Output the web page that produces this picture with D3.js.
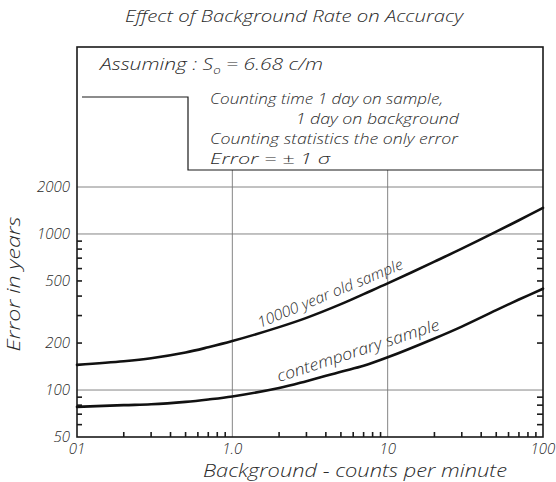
<!DOCTYPE html>
<html>
<head>
<meta charset="utf-8">
<script src="https://cdn.jsdelivr.net/npm/d3@7"></script>
<style>
  html, body { margin: 0; padding: 0; background: #fff; }
  svg { display: block; }
  text { font-family: "Open Sans", "DejaVu Sans", sans-serif; font-weight: 300; font-style: italic; fill: #2a2a2a; }
</style>
</head>
<body>
<svg id="chart" width="556" height="482"></svg>
<script>
// Background counting rate (counts per minute)
const background = [0.1, 0.2, 0.3, 0.5, 0.7, 1, 2, 3, 5, 7, 10, 20, 30, 50, 70, 100];
// Dating error (years) for a 10000-year-old sample
const oldSample = [145, 153, 160, 174, 188, 206, 253, 290, 355, 412, 482, 665, 805, 1035, 1225, 1470];
// Dating error (years) for a contemporary sample
const contemporary = [78, 80, 81, 84, 87, 91, 103, 114, 131, 143, 162, 214, 255, 325, 380, 446];

const xTickValues = [0.1, 1, 10, 100];
const xTickLabels = ["01", "1.0", "10", "100"];
const yTickValues = [50, 100, 200, 500, 1000, 2000];
const yTickLabels = ["50", "100", "200", "500", "1000", "2000"];
const yMinorTicks = [60, 70, 80, 90, 200, 300, 400, 500, 600, 700, 800, 900];
const xMinorTicks = [0.2, 0.3, 0.4, 0.5, 0.6, 0.7, 0.8, 0.9,
                     2, 3, 4, 5, 6, 7, 8, 9,
                     20, 30, 40, 50, 60, 70, 80, 90];
const gridY = [100, 1000, 2000];
const gridX = [1, 10];

const notes = [
  "Counting time 1 day on sample,",
  "1 day on background",
  "Counting statistics the only error",
  "Error = \u00b1 1 \u03c3"
];

const svg = d3.select("#chart");
const L = 77, R = 543, B = 437, T = 47;

const x = d3.scaleLog().domain([0.1, 100]).range([L, R]);
const y = d3.scaleLog().domain([50, 2000]).range([B, 187]);
const plotTop = 170;   // top edge of the graph under the notes panel
const stepX = 188, stepY = 97;

const ink = "#1a1a1a";

// gridlines
const grid = svg.append("g").attr("stroke", "#777").attr("stroke-width", 0.9);
grid.selectAll("line.gy").data(gridY).join("line")
  .attr("x1", L).attr("x2", R).attr("y1", d => y(d)).attr("y2", d => y(d));
grid.selectAll("line.gx").data(gridX).join("line")
  .attr("x1", d => x(d)).attr("x2", d => x(d)).attr("y1", B).attr("y2", plotTop);

// minor ticks, left and right
const ticks = svg.append("g").attr("stroke", ink).attr("stroke-width", 1.6);
ticks.selectAll("line.tl").data(yMinorTicks).join("line")
  .attr("x1", L).attr("x2", L + 5).attr("y1", d => y(d)).attr("y2", d => y(d));
ticks.selectAll("line.tr").data(yMinorTicks).join("line")
  .attr("x1", R).attr("x2", R - 6).attr("y1", d => y(d)).attr("y2", d => y(d));
ticks.selectAll("line.tb").data(xMinorTicks).join("line")
  .attr("x1", d => x(d)).attr("x2", d => x(d)).attr("y1", B).attr("y2", B - 5);

// frame and notes panel
const frame = svg.append("g").attr("fill", "none").attr("stroke", ink);
frame.append("rect").attr("x", L).attr("y", T).attr("width", R - L).attr("height", B - T)
  .attr("stroke-width", 1.6);
frame.append("path")
  .attr("d", `M${L + 5},${stepY}H${stepX}V${plotTop}H${R}`)
  .attr("stroke-width", 1.2);

// curves
const line = d3.line().curve(d3.curveCatmullRom.alpha(0.5));
const curves = svg.append("g").attr("fill", "none").attr("stroke", "#111")
  .attr("stroke-width", 2.6).attr("stroke-linecap", "round");
[oldSample, contemporary].forEach(series => {
  curves.append("path").attr("d", line(background.map((b, i) => [x(b), y(series[i])])));
});

// curve labels
svg.append("text").attr("transform", "translate(260,328) rotate(-22.5)")
  .attr("font-size", 15).attr("textLength", 156).attr("lengthAdjust", "spacingAndGlyphs")
  .text("10000 year old sample");
svg.append("text").attr("transform", "translate(279,382) rotate(-18)")
  .attr("font-size", 16).attr("textLength", 170).attr("lengthAdjust", "spacingAndGlyphs")
  .text("contemporary sample");

// axis labels
svg.append("g").selectAll("text").data(yTickValues).join("text")
  .attr("x", 70).attr("y", d => y(d)).attr("dy", "0.36em")
  .attr("text-anchor", "end").attr("font-size", 15)
  .text((d, i) => yTickLabels[i]);
svg.append("g").selectAll("text").data(xTickValues).join("text")
  .attr("x", d => x(d)).attr("y", 454)
  .attr("text-anchor", "middle").attr("font-size", 15)
  .text((d, i) => xTickLabels[i]);

// titles
svg.append("text").attr("x", 294).attr("y", 22).attr("text-anchor", "middle")
  .attr("font-size", 16).attr("textLength", 338).attr("lengthAdjust", "spacingAndGlyphs")
  .text("Effect of Background Rate on Accuracy");
svg.append("text").attr("x", 355).attr("y", 477).attr("text-anchor", "middle")
  .attr("font-size", 18).attr("textLength", 304).attr("lengthAdjust", "spacingAndGlyphs")
  .text("Background - counts per minute");
svg.append("text").attr("transform", "translate(20,284) rotate(-90)").attr("text-anchor", "middle")
  .attr("font-size", 18).attr("textLength", 135).attr("lengthAdjust", "spacingAndGlyphs")
  .text("Error in years");

// notes panel text
const a = svg.append("text").attr("x", 100).attr("y", 70).attr("font-size", 16);
a.append("tspan").text("Assuming :  S");
a.append("tspan").attr("font-size", 10).attr("dy", 4).text("o");
a.append("tspan").attr("dy", -4).text(" = 6.68 c/m");
a.attr("textLength", 223).attr("lengthAdjust", "spacingAndGlyphs");

// note lines: fixed size, glyphs stretched wide to their drawn widths
const noteX = [210, 459, 210, 210];
const noteY = [104, 124, 144, 164];
const noteW = [233, null, 248, 120];
const noteAnchor = ["start", "end", "start", "start"];
const noteText = svg.append("g").selectAll("text").data(notes).join("text")
  .attr("x", (d, i) => noteX[i]).attr("y", (d, i) => noteY[i])
  .attr("text-anchor", (d, i) => noteAnchor[i])
  .attr("font-size", 14)
  .text(d => d);
const natural = noteText.nodes().map(n => n.getComputedTextLength());
const stretch = noteW[2] / natural[2];
noteText.attr("textLength", (d, i) => noteW[i] || natural[i] * stretch)
  .attr("lengthAdjust", "spacingAndGlyphs");
</script>
</body>
</html>
